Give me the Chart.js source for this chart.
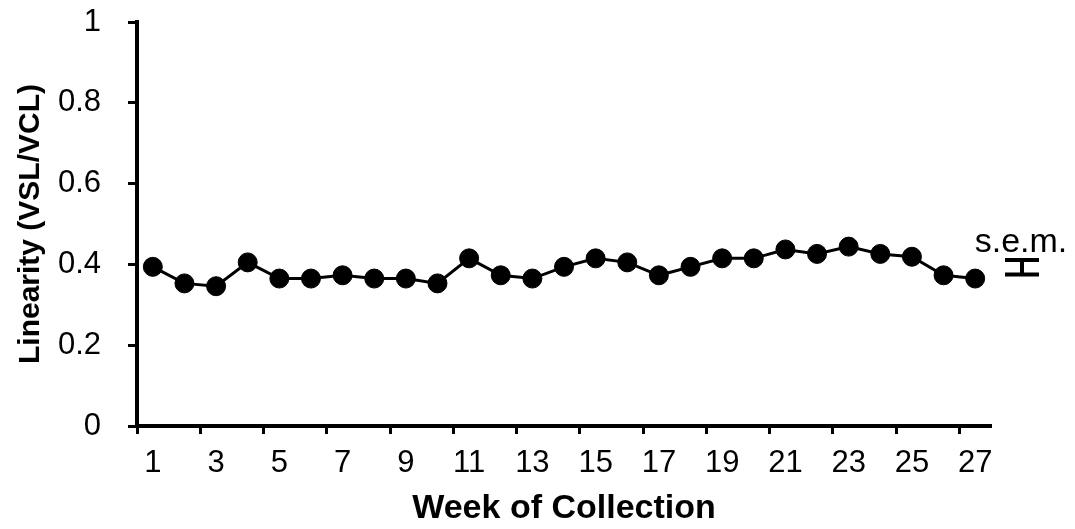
<!DOCTYPE html>
<html>
<head>
<meta charset="utf-8">
<script src="https://cdn.jsdelivr.net/npm/chart.js@4/dist/chart.umd.min.js"></script>
<style>
html,body{margin:0;padding:0;background:#fff;}
#wrap{width:1075px;height:529px;position:relative;}
</style>
</head>
<body>
<div id="wrap"><canvas id="c" width="1075" height="529"></canvas></div>
<script>
// ---- data ----
const weeks = ['1','2','3','4','5','6','7','8','9','10','11','12','13','14','15','16','17','18','19','20','21','22','23','24','25','26','27'];
const linearity = [0.394,0.353,0.346,0.405,0.365,0.365,0.373,0.365,0.365,0.353,0.415,0.373,0.365,0.394,0.415,0.405,0.373,0.394,0.415,0.415,0.437,0.426,0.444,0.426,0.419,0.373,0.365];
const yTickValues = [0,0.2,0.4,0.6,0.8,1];
const xTickLabels = ['1','3','5','7','9','11','13','15','17','19','21','23','25','27'];
const semCenter = [0.393];
const semValue = [0.018];
const semLabel = 's.e.m.';
const xTitle = 'Week of Collection';
const yTitle = 'Linearity (VSL/VCL)';

const FONT = "'Liberation Sans', Arial, sans-serif";

const semPlugin = {
  id: 'semBar',
  afterDraw(chart) {
    const ctx = chart.ctx;
    const y = chart.scales.y;
    const cx = chart.chartArea.right + 31;
    const yTop = y.getPixelForValue(semCenter[0] + semValue[0]);
    const yBot = y.getPixelForValue(semCenter[0] - semValue[0]);
    ctx.save();
    ctx.strokeStyle = '#000';
    ctx.lineWidth = 4;
    ctx.beginPath();
    ctx.moveTo(cx, yTop); ctx.lineTo(cx, yBot);
    ctx.moveTo(cx - 17, yTop); ctx.lineTo(cx + 17, yTop);
    ctx.moveTo(cx - 17, yBot); ctx.lineTo(cx + 17, yBot);
    ctx.stroke();
    ctx.fillStyle = '#000';
    ctx.font = "34px " + FONT;
    ctx.textAlign = 'center';
    ctx.textBaseline = 'alphabetic';
    ctx.fillText(semLabel, cx - 1, yTop - 8);
    ctx.restore();
  }
};

new Chart(document.getElementById('c'), {
  type: 'line',
  data: {
    labels: weeks,
    datasets: [{
      data: linearity,
      borderColor: '#000',
      backgroundColor: '#000',
      borderWidth: 3,
      pointRadius: 9.5,
      pointHoverRadius: 9.5,
      pointBackgroundColor: '#000',
      pointBorderColor: '#000',
      pointBorderWidth: 1,
      tension: 0,
      fill: false
    }]
  },
  options: {
    responsive: false,
    animation: false,
    devicePixelRatio: 1,
    layout: { padding: { top: 22, right: 84, left: 0, bottom: 0 } },
    plugins: { legend: { display: false }, tooltip: { enabled: false } },
    scales: {
      x: {
        type: 'category',
        offset: true,
        border: { display: true, color: '#000', width: 4 },
        grid: {
          display: true,
          drawOnChartArea: false,
          offset: true,
          drawTicks: true,
          tickLength: 8,
          tickWidth: 3,
          tickColor: (c) => (c.index % 2 === 0 ? '#000' : 'rgba(0,0,0,0)')
        },
        ticks: {
          autoSkip: false,
          maxRotation: 0,
          minRotation: 0,
          padding: 11,
          color: '#000',
          font: { family: FONT, size: 31 },
          callback: function(v, i) { const l = weeks[i]; return xTickLabels.includes(l) ? l : ''; }
        },
        title: {
          display: true,
          text: xTitle,
          color: '#000',
          font: { family: FONT, size: 34, weight: 'bold' },
          padding: { top: 0, bottom: 0 }
        },
        afterFit: (s) => { s.height = 103; s.paddingLeft = 0; s.paddingRight = 0; }
      },
      y: {
        min: 0,
        max: 1,
        border: { display: true, color: '#000', width: 4 },
        grid: {
          display: true,
          drawOnChartArea: false,
          drawTicks: true,
          tickLength: 9,
          tickWidth: 3,
          tickColor: '#000'
        },
        afterBuildTicks: (s) => { s.ticks = yTickValues.map(v => ({ value: v })); },
        ticks: {
          padding: 27,
          color: '#000',
          font: { family: FONT, size: 31 },
          callback: (v) => String(v)
        },
        title: {
          display: true,
          text: yTitle,
          color: '#000',
          font: { family: FONT, size: 30, weight: 'bold' },
          padding: { top: 13, bottom: 0 }
        },
        afterFit: (s) => { s.width = 137; s.paddingTop = 0; s.paddingBottom = 0; }
      }
    }
  },
  plugins: [semPlugin]
});
</script>
</body>
</html>
